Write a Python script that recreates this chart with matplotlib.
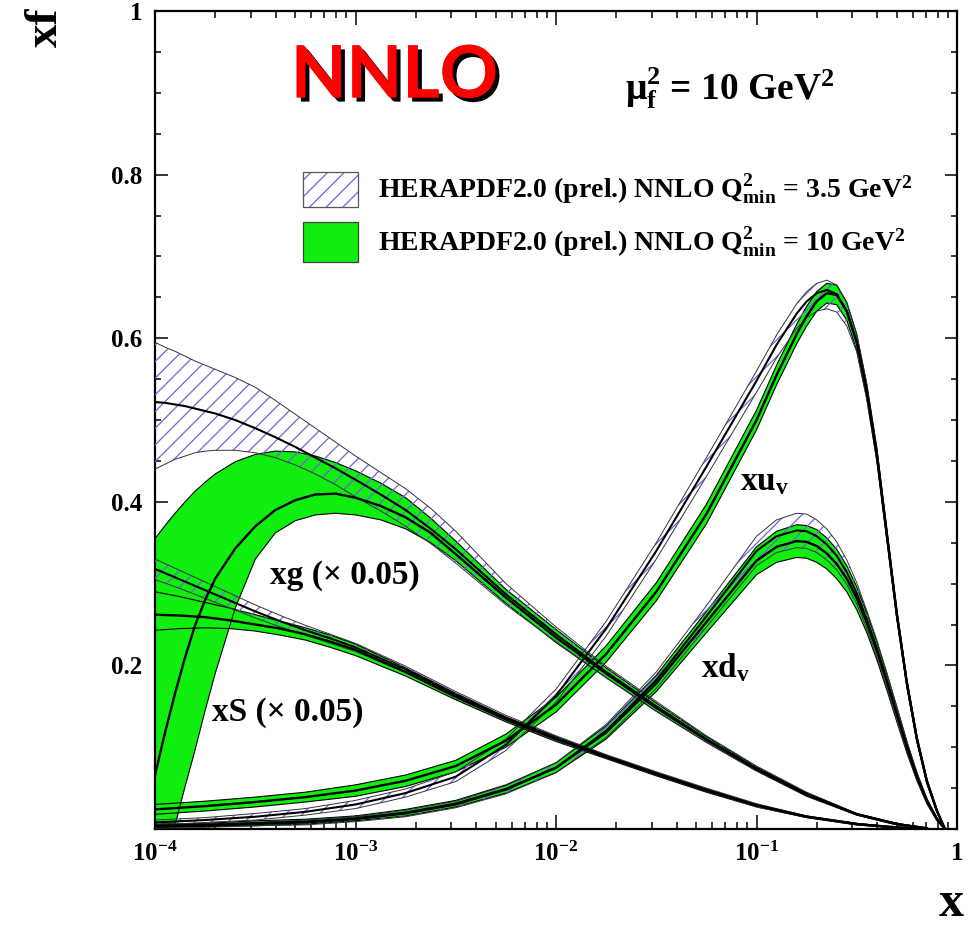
"""HERAPDF2.0 (prel.) NNLO parton distributions at mu_f^2 = 10 GeV^2."""

import matplotlib
matplotlib.use("Agg")
import matplotlib.patheffects as pe
import matplotlib.pyplot as plt
import numpy as np
from matplotlib.patches import Rectangle
from matplotlib.ticker import LogLocator, MultipleLocator, NullFormatter

LX_VAL = [-4.0, -3.75, -3.5, -3.25, -3.0, -2.75, -2.5, -2.25, -2.0, -1.75, -1.5, -1.25,
          -1.0, -0.9, -0.8, -0.75, -0.7, -0.65, -0.6, -0.55, -0.5, -0.45, -0.4, -0.35,
          -0.3, -0.25, -0.2, -0.15, -0.1, -0.06]
LX_SEA = [-4.0, -3.875, -3.75, -3.625, -3.5, -3.375, -3.25, -3.125, -3.0, -2.75, -2.5,
          -2.25, -2.0, -1.75, -1.5, -1.25, -1.0, -0.75, -0.5, -0.3, -0.15]
LX_GLU = [-4.0, -3.95, -3.9, -3.85, -3.8, -3.75, -3.7, -3.6, -3.5, -3.4, -3.3, -3.2,
          -3.1, -3.0, -2.875, -2.75, -2.625, -2.5, -2.25, -2.0, -1.75, -1.5, -1.25, -1.0,
          -0.75, -0.5, -0.3, -0.15]

# xu_v, Q2min = 10 (green) and 3.5 (hatched)
UV10 = [0.024, 0.028, 0.033, 0.039, 0.047, 0.059, 0.077, 0.108, 0.152, 0.214, 0.29, 0.385,
        0.5, 0.555, 0.605, 0.627, 0.645, 0.655, 0.653, 0.633, 0.595, 0.535, 0.458, 0.36,
        0.262, 0.178, 0.11, 0.058, 0.022, 0.0]
UV10_HI = [0.030, 0.034, 0.039, 0.045, 0.054, 0.066, 0.084, 0.116, 0.161, 0.224, 0.301,
           0.397, 0.512, 0.567, 0.617, 0.639, 0.657, 0.667, 0.665, 0.644, 0.605, 0.544,
           0.466, 0.367, 0.268, 0.183, 0.114, 0.061, 0.024, 0.0]
UV10_LO = [0.018, 0.022, 0.027, 0.033, 0.040, 0.052, 0.070, 0.100, 0.143, 0.204, 0.279,
           0.373, 0.488, 0.543, 0.593, 0.615, 0.633, 0.643, 0.641, 0.622, 0.585, 0.526,
           0.450, 0.353, 0.256, 0.173, 0.106, 0.055, 0.020, 0.0]
UV35 = [0.008, 0.011, 0.015, 0.021, 0.03, 0.044, 0.064, 0.103, 0.163, 0.245, 0.34, 0.443,
        0.548, 0.592, 0.63, 0.645, 0.655, 0.659, 0.654, 0.633, 0.595, 0.535, 0.458, 0.36,
        0.262, 0.178, 0.11, 0.058, 0.022, 0.0]
UV35_HI = [0.011, 0.014, 0.019, 0.025, 0.035, 0.049, 0.070, 0.110, 0.171, 0.254, 0.350,
           0.454, 0.560, 0.604, 0.642, 0.657, 0.667, 0.671, 0.665, 0.643, 0.604, 0.543,
           0.465, 0.366, 0.267, 0.182, 0.113, 0.060, 0.023, 0.0]
UV35_LO = [0.005, 0.008, 0.011, 0.017, 0.025, 0.039, 0.058, 0.096, 0.155, 0.236, 0.330,
           0.431, 0.534, 0.576, 0.612, 0.625, 0.633, 0.636, 0.632, 0.615, 0.583, 0.525,
           0.450, 0.354, 0.257, 0.174, 0.107, 0.056, 0.021, 0.0]

# xd_v
DV10 = [0.004, 0.005, 0.007, 0.009, 0.013, 0.02, 0.031, 0.049, 0.075, 0.118, 0.178, 0.253,
        0.328, 0.345, 0.352, 0.351, 0.346, 0.337, 0.324, 0.306, 0.282, 0.252, 0.218, 0.18,
        0.14, 0.1, 0.064, 0.034, 0.012, 0.0]
DV10_HI = [0.006, 0.007, 0.010, 0.012, 0.016, 0.024, 0.035, 0.054, 0.081, 0.126, 0.188,
           0.266, 0.345, 0.364, 0.372, 0.371, 0.366, 0.356, 0.342, 0.322, 0.296, 0.264,
           0.229, 0.190, 0.149, 0.107, 0.069, 0.037, 0.014, 0.0]
DV10_LO = [0.002, 0.003, 0.004, 0.006, 0.010, 0.016, 0.027, 0.044, 0.069, 0.110, 0.168,
           0.240, 0.311, 0.326, 0.332, 0.331, 0.326, 0.318, 0.306, 0.290, 0.268, 0.240,
           0.207, 0.170, 0.131, 0.093, 0.059, 0.031, 0.010, 0.0]
DV35 = [0.003, 0.004, 0.006, 0.008, 0.012, 0.019, 0.03, 0.048, 0.075, 0.12, 0.182, 0.26,
        0.34, 0.358, 0.365, 0.364, 0.358, 0.348, 0.334, 0.314, 0.288, 0.256, 0.221, 0.182,
        0.141, 0.101, 0.064, 0.034, 0.012, 0.0]
DV35_HI = [0.005, 0.006, 0.008, 0.011, 0.015, 0.023, 0.034, 0.053, 0.081, 0.128, 0.192,
           0.273, 0.358, 0.378, 0.386, 0.385, 0.378, 0.367, 0.351, 0.329, 0.301, 0.267,
           0.231, 0.191, 0.149, 0.107, 0.068, 0.037, 0.013, 0.0]
DV35_LO = [0.001, 0.002, 0.004, 0.005, 0.009, 0.015, 0.026, 0.043, 0.069, 0.112, 0.172,
           0.247, 0.322, 0.338, 0.344, 0.343, 0.338, 0.329, 0.317, 0.299, 0.275, 0.245,
           0.211, 0.173, 0.133, 0.095, 0.060, 0.031, 0.011, 0.0]

# xS (x 0.05)
SEA10 = [0.262, 0.261, 0.259, 0.255, 0.25, 0.245, 0.238, 0.229, 0.219, 0.192, 0.162, 0.134,
         0.11, 0.088, 0.067, 0.047, 0.029, 0.015, 0.006, 0.002, 0.0]
SEA10_HI = [0.29, 0.284, 0.277, 0.27, 0.262, 0.254, 0.246, 0.237, 0.226, 0.197, 0.166,
            0.137, 0.113, 0.09, 0.069, 0.049, 0.03, 0.016, 0.007, 0.002, 0.0]
SEA10_LO = [0.243, 0.245, 0.246, 0.245, 0.242, 0.237, 0.231, 0.222, 0.212, 0.187, 0.158,
            0.131, 0.107, 0.086, 0.065, 0.045, 0.027, 0.014, 0.005, 0.001, 0.0]
SEA35 = [0.318, 0.305, 0.292, 0.279, 0.266, 0.254, 0.243, 0.233, 0.222, 0.195, 0.164,
         0.136, 0.111, 0.089, 0.068, 0.048, 0.029, 0.015, 0.006, 0.002, 0.0]
SEA35_HI = [0.33, 0.316, 0.302, 0.288, 0.274, 0.261, 0.249, 0.238, 0.227, 0.199, 0.168,
            0.139, 0.114, 0.091, 0.07, 0.05, 0.031, 0.016, 0.007, 0.002, 0.0]
SEA35_LO = [0.305, 0.294, 0.282, 0.27, 0.258, 0.247, 0.237, 0.227, 0.217, 0.191, 0.16,
            0.133, 0.108, 0.087, 0.066, 0.046, 0.027, 0.014, 0.005, 0.001, 0.0]

# xg (x 0.05)
GLU10 = [0.066, 0.118, 0.166, 0.21, 0.249, 0.28, 0.306, 0.343, 0.37, 0.39, 0.402, 0.409,
         0.41, 0.405, 0.395, 0.381, 0.362, 0.336, 0.283, 0.234, 0.19, 0.148, 0.109, 0.073,
         0.042, 0.018, 0.006, 0.001]
GLU10_HI = [0.355, 0.371, 0.386, 0.4, 0.413, 0.424, 0.434, 0.449, 0.458, 0.462, 0.461,
            0.456, 0.448, 0.438, 0.423, 0.405, 0.38, 0.352, 0.293, 0.244, 0.197, 0.154,
            0.113, 0.076, 0.044, 0.019, 0.007, 0.001]
GLU10_LO = [-0.2, -0.09, 0.005, 0.052, 0.097, 0.145, 0.19, 0.27, 0.33, 0.362, 0.377,
            0.384, 0.386, 0.384, 0.378, 0.367, 0.35, 0.328, 0.276, 0.228, 0.185, 0.144,
            0.106, 0.071, 0.04, 0.017, 0.005, 0.0]
GLU35 = [0.522, 0.521, 0.519, 0.517, 0.514, 0.511, 0.508, 0.5, 0.49, 0.479, 0.467, 0.454,
         0.441, 0.427, 0.409, 0.39, 0.367, 0.342, 0.287, 0.238, 0.192, 0.15, 0.11, 0.074,
         0.043, 0.018, 0.006, 0.001]
GLU35_HI = [0.595, 0.589, 0.584, 0.578, 0.572, 0.567, 0.562, 0.552, 0.54, 0.524, 0.507,
            0.49, 0.473, 0.456, 0.436, 0.416, 0.392, 0.364, 0.3, 0.247, 0.199, 0.156,
            0.114, 0.077, 0.045, 0.019, 0.007, 0.001]
GLU35_LO = [0.44, 0.446, 0.452, 0.456, 0.46, 0.462, 0.463, 0.463, 0.46, 0.454, 0.445,
            0.434, 0.421, 0.406, 0.389, 0.37, 0.349, 0.325, 0.274, 0.229, 0.185, 0.144,
            0.106, 0.071, 0.041, 0.017, 0.005, 0.0]

X_TICKS = [1e-4, 1e-3, 1e-2, 1e-1, 1.0]
X_TICK_LABELS = [r"$\mathbf{10^{-4}}$", r"$\mathbf{10^{-3}}$", r"$\mathbf{10^{-2}}$",
                 r"$\mathbf{10^{-1}}$", r"$\mathbf{1}$"]
Y_TICKS = [0.2, 0.4, 0.6, 0.8, 1.0]
Y_TICK_LABELS = ["0.2", "0.4", "0.6", "0.8", "1"]

GREEN = "#10ee10"
HATCH = "#7262d6"

plt.rcParams.update({
    "font.family": "Liberation Serif",
    "font.weight": "bold",
    "mathtext.fontset": "custom",
    "mathtext.rm": "Liberation Serif:bold",
    "mathtext.it": "Liberation Serif:bold",
    "mathtext.bf": "Liberation Serif:bold",
    "hatch.linewidth": 0.9,
})


def draw_green(ax, lx, lo, hi, mid):
    """Solid green band with black outline and central line."""
    x = 10.0 ** np.asarray(lx)
    ax.fill_between(x, lo, hi, facecolor=GREEN, edgecolor="none", zorder=2)
    ax.plot(x, lo, color="black", lw=0.8, zorder=3)
    ax.plot(x, hi, color="black", lw=0.8, zorder=3)
    ax.plot(x, mid, color="black", lw=1.7, zorder=6)


def draw_hatched(ax, lx, lo, hi, mid):
    """Hatched (transparent) band with thin outline and central line."""
    x = 10.0 ** np.asarray(lx)
    ax.fill_between(x, lo, hi, facecolor="none", edgecolor=HATCH, hatch="//",
                    linewidth=0, zorder=4)
    ax.plot(x, lo, color="#333340", lw=0.7, zorder=5)
    ax.plot(x, hi, color="#333340", lw=0.7, zorder=5)
    ax.plot(x, mid, color="black", lw=1.5, zorder=6)


fig = plt.figure(figsize=(9.72, 9.27), dpi=100)
ax = fig.add_axes([0.1595, 0.1057, 0.8251, 0.8824])

draw_green(ax, LX_GLU, GLU10_LO, GLU10_HI, GLU10)
draw_green(ax, LX_SEA, SEA10_LO, SEA10_HI, SEA10)
draw_green(ax, LX_VAL, UV10_LO, UV10_HI, UV10)
draw_green(ax, LX_VAL, DV10_LO, DV10_HI, DV10)

draw_hatched(ax, LX_GLU, GLU35_LO, GLU35_HI, GLU35)
draw_hatched(ax, LX_SEA, SEA35_LO, SEA35_HI, SEA35)
draw_hatched(ax, LX_VAL, UV35_LO, UV35_HI, UV35)
draw_hatched(ax, LX_VAL, DV35_LO, DV35_HI, DV35)

ax.set_xscale("log")
ax.set_xlim(1e-4, 1.0)
ax.set_ylim(0.0, 1.0)

ax.set_xticks(X_TICKS)
ax.set_xticklabels(X_TICK_LABELS, fontsize=18)
ax.xaxis.set_minor_locator(LogLocator(base=10, subs=np.arange(2, 10) * 1.0, numticks=20))
ax.xaxis.set_minor_formatter(NullFormatter())
ax.set_yticks(Y_TICKS)
ax.set_yticklabels(Y_TICK_LABELS, fontsize=18)
ax.yaxis.set_minor_locator(MultipleLocator(0.05))

ax.tick_params(which="both", direction="in", top=True, right=True, width=1.1)
ax.tick_params(axis="x", which="major", length=10, pad=9)
ax.tick_params(axis="x", which="minor", length=5)
ax.tick_params(axis="y", which="major", length=9, pad=9)
ax.tick_params(axis="y", which="minor", length=4.5)
for sp in ax.spines.values():
    sp.set_linewidth(1.6)

# axis titles
fig.text(0.047, 0.992, "xf", rotation=90, fontsize=34, ha="center", va="top")
fig.text(0.992, 0.0, "x", fontsize=36, ha="right", va="bottom")

# NNLO tag
fig.text(0.406, 0.917, "NNLO", fontsize=52, family="Lato", weight="bold", color="red",
         ha="center", va="center",
         path_effects=[pe.withSimplePatchShadow(offset=(3, -3), shadow_rgbFace="black",
                                                alpha=1.0),
                       pe.Normal()])

ax.text(0.717, 0.905, r"$\mathbf{\mu^2_f}$ = 10 GeV$\mathbf{^2}$", fontsize=27,
        ha="center", va="center", transform=ax.transAxes)

# legend drawn by hand
ax.add_patch(Rectangle((0.1845, 0.760), 0.0685, 0.043, transform=ax.transAxes,
                       facecolor="white", edgecolor=HATCH, hatch="//", lw=0, zorder=7))
ax.add_patch(Rectangle((0.1845, 0.760), 0.0685, 0.043, transform=ax.transAxes,
                       facecolor="none", edgecolor="#555560", lw=0.9, zorder=8))
ax.add_patch(Rectangle((0.1845, 0.693), 0.0685, 0.049, transform=ax.transAxes,
                       facecolor=GREEN, edgecolor="#404040", lw=0.9, zorder=8))
ax.text(0.278, 0.781, r"HERAPDF2.0 (prel.) NNLO $\mathbf{Q^2_{min}}$ = 3.5 GeV$\mathbf{^2}$",
        fontsize=20, ha="left", va="center", transform=ax.transAxes)
ax.text(0.278, 0.717, r"HERAPDF2.0 (prel.) NNLO $\mathbf{Q^2_{min}}$ = 10 GeV$\mathbf{^2}$",
        fontsize=20, ha="left", va="center", transform=ax.transAxes)

# curve labels
ax.text(0.76, 0.424, r"$\mathbf{xu_v}$", fontsize=24, ha="center", va="center",
        transform=ax.transAxes)
ax.text(0.711, 0.197, r"$\mathbf{xd_v}$", fontsize=24, ha="center", va="center",
        transform=ax.transAxes)
ax.text(0.237, 0.31, "xg (\u00d7 0.05)", fontsize=24, ha="center", va="center",
        transform=ax.transAxes)
ax.text(0.165, 0.142, "xS (\u00d7 0.05)", fontsize=24, ha="center", va="center",
        transform=ax.transAxes)

fig.savefig("out.png", dpi=100)
